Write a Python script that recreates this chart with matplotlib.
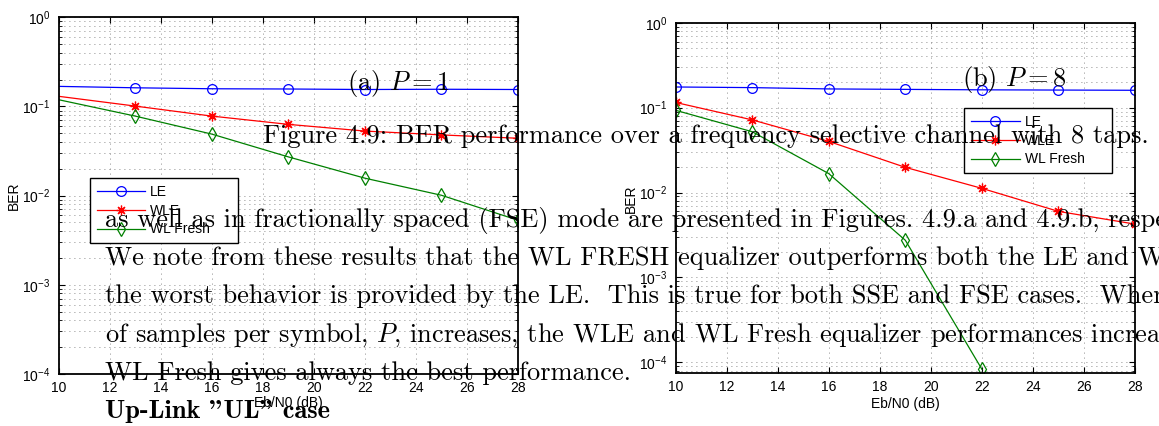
import matplotlib
matplotlib.use("Agg")
import matplotlib.pyplot as plt

plt.rcParams['font.family'] = ['Liberation Sans', 'DejaVu Sans']
plt.rcParams['font.size'] = 10

# Eb/N0 (dB)
ebn0 = [10, 13, 16, 19, 22, 25, 28]

# (a) P = 1
ber_le_a = [0.168, 0.162, 0.158, 0.157, 0.155, 0.156, 0.155]
ber_wle_a = [0.130, 0.101, 0.078, 0.063, 0.053, 0.048, 0.044]
ber_fresh_a = [0.119, 0.078, 0.049, 0.0272, 0.0157, 0.0101, 0.0053]

# (b) P = 8
ber_le_b = [0.175, 0.172, 0.166, 0.164, 0.162, 0.161, 0.160]
ber_wle_b = [0.115, 0.0717, 0.040, 0.0198, 0.0112, 0.0060, 0.00425]
ebn0_fresh_b = [10, 13, 16, 19, 22]
ber_fresh_b = [0.093, 0.052, 0.0167, 0.00274, 8.3e-5]

labels = ['LE', 'WLE', 'WL Fresh']
xticks = [10, 12, 14, 16, 18, 20, 22, 24, 26, 28]

# text of the document page that sits over the figure
panel_titles = [r'(a) $P = 1$', r'(b) $P = 8$']
caption = 'Figure 4.9: BER performance over a frequency selective channel with 8 taps.'
body = [
    'as well as in fractionally spaced (FSE) mode are presented in Figures. 4.9.a and 4.9.b, respectively.',
    'We note from these results that the WL FRESH equalizer outperforms both the LE and WLE, while',
    'the worst behavior is provided by the LE.  This is true for both SSE and FSE cases.  When the number',
    r'of samples per symbol, $P$, increases, the WLE and WL Fresh equalizer performances increase.',
    'WL Fresh gives always the best performance.',
]
heading = 'Up-Link "UL" case'

W, H = 1159, 426
fig = plt.figure(figsize=(W / 100, H / 100), dpi=100)


def px_axes(x0, y0, x1, y1):
    return fig.add_axes([x0 / W, 1 - y1 / H, (x1 - x0) / W, (y1 - y0) / H])


def style_axes(ax, ylim):
    ax.set_yscale('log')
    ax.set_xlim(10, 28)
    ax.set_ylim(*ylim)
    ax.set_xticks(xticks)
    ax.tick_params(which='both', direction='in', top=True, right=True, labelsize=10)
    ax.tick_params(which='major', length=4, width=0.8)
    ax.tick_params(which='minor', length=2.5, width=0.6)
    ax.tick_params(axis='y', pad=6)
    ax.tick_params(axis='x', pad=5)
    grid = dict(color='0.4', lw=0.6, linestyle=(0, (1, 5)))
    ax.grid(True, which='major', axis='x', **grid)
    ax.grid(True, which='both', axis='y', **grid)
    for s in ax.spines.values():
        s.set_linewidth(1.3)


def draw(ax, le, wle, fresh_x, fresh, marks):
    ax.plot(ebn0, le, color='#0000ff', lw=0.9, marker='o', ms=7, mfc='none', mew=0.9,
            markevery=marks, label=labels[0])
    ax.plot(ebn0, wle, color='#ff0000', lw=0.9, marker=(8, 2, 0), ms=7, mew=0.9,
            markevery=marks, label=labels[1])
    ax.plot(fresh_x, fresh, color='#008000', lw=0.9, marker='d', ms=7.5, mfc='none', mew=0.9,
            markevery=marks, label=labels[2])


def legend(ax, x, y):
    # fixed-width box, like the MATLAB legend
    leg = ax.legend(loc='upper left', bbox_to_anchor=(x, y, 148 / 459.3, 0), mode='expand',
                    fontsize=10, frameon=True, fancybox=False, edgecolor='black',
                    framealpha=1, handlelength=3.5, handletextpad=0.35, labelspacing=0.35,
                    borderpad=0.5, borderaxespad=0)
    leg.get_frame().set_linewidth(1.0)


# left panel, P = 1 (marker at 10 dB not shown)
ax1 = px_axes(58.7, 17.3, 518, 374)
style_axes(ax1, (1e-4, 1))
draw(ax1, ber_le_a, ber_wle_a, ebn0, ber_fresh_a, slice(1, None))
legend(ax1, 0.068, 0.55)
ax1.text(-0.097, 0.5, 'BER', transform=ax1.transAxes, rotation=90, ha='center', va='center')
ax1.text(0.5, -0.081, 'Eb/N0 (dB)', transform=ax1.transAxes, ha='center', va='center')

# right panel, P = 8
ax2 = px_axes(675.7, 22.7, 1135, 373)
style_axes(ax2, (7.5e-5, 1))
draw(ax2, ber_le_b, ber_wle_b, ebn0_fresh_b, ber_fresh_b, None)
legend(ax2, 0.628, 0.757)
ax2.text(-0.097, 0.497, 'BER', transform=ax2.transAxes, rotation=90, ha='center', va='center')
ax2.text(0.5, -0.0885, 'Eb/N0 (dB)', transform=ax2.transAxes, ha='center', va='center')

# page text drawn over the plots
doc = dict(family='cmr10', math_fontfamily='cm', fontsize=19, va='baseline', ha='left', zorder=10)
fig.text(346.7 / W, 1 - 90 / H, panel_titles[0], **doc)
fig.text(962 / W, 1 - 86 / H, panel_titles[1], **doc)
fig.text(263 / W, 1 - 142.7 / H, caption, **doc)
for i, line in enumerate(body):
    fig.text(105 / W, 1 - (227 + 38.2 * i) / H, line, **doc)
fig.text(105 / W, 1 - 418 / H, heading, family='cmb10', fontsize=19, va='baseline',
         ha='left', zorder=10)

fig.savefig('out.png', dpi=100)
